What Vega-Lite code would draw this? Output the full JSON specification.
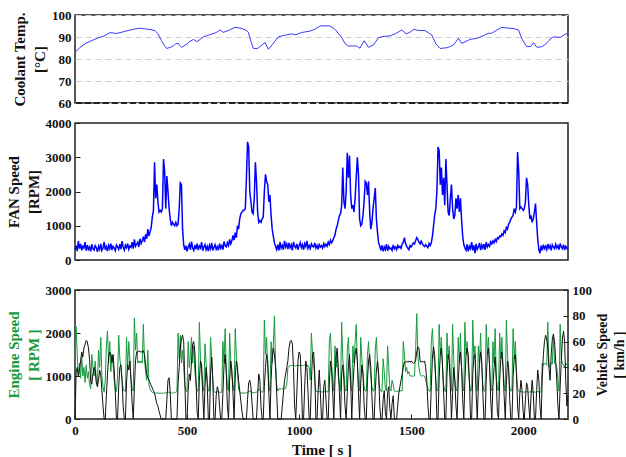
{
"$schema": "https://vega.github.io/schema/vega-lite/v6.json",
"background": "white",
"padding": {"left": 5, "top": 8, "right": 0, "bottom": 0},
"config": {
  "font": "Liberation Serif",
  "view": {"stroke": "#222", "strokeWidth": 1.5},
  "axis": {"labelFont": "Liberation Serif", "labelFontWeight": "bold", "labelFontSize": 13, "labelColor": "#111", "labelOverlap": false, "labelFlush": false, "format": "d", "titleFont": "Liberation Serif", "titleFontWeight": "bold", "titleFontSize": 15, "titleColor": "#111", "titleLineHeight": 20, "domain": false, "tickColor": "#222", "tickSize": -5, "labelPadding": 9, "grid": false, "titlePadding": 4}
},
"datasets": {
"coolant": [
{"t":0,"c":83},{"t":20,"c":85},{"t":45,"c":87},{"t":67,"c":88},{"t":100,"c":89.5},{"t":130,"c":90.5},{"t":156,"c":92},{"t":186,"c":91.6},{"t":220,"c":92.5},{"t":260,"c":93.5},{"t":290,"c":94},{"t":320,"c":93.6},{"t":340,"c":93.3},{"t":357,"c":92.9},{"t":370,"c":91.5},{"t":385,"c":88.5},{"t":400,"c":86},{"t":409,"c":84.8},{"t":425,"c":85.3},{"t":440,"c":86},{"t":450,"c":87},{"t":461,"c":87.1},{"t":470,"c":85.8},{"t":476,"c":85.3},{"t":495,"c":86.5},{"t":510,"c":87.8},{"t":528,"c":88.9},{"t":543,"c":87.9},{"t":560,"c":89},{"t":573,"c":90.1},{"t":600,"c":91},{"t":630,"c":92},{"t":647,"c":93.2},{"t":662,"c":92.1},{"t":690,"c":93.2},{"t":714,"c":94.4},{"t":740,"c":94},{"t":765,"c":93},{"t":774,"c":92.1},{"t":785,"c":88},{"t":796,"c":84.8},{"t":815,"c":84.8},{"t":830,"c":86},{"t":848,"c":87.5},{"t":863,"c":84.4},{"t":880,"c":86.5},{"t":908,"c":90.1},{"t":935,"c":90.8},{"t":967,"c":91.4},{"t":985,"c":91},{"t":1010,"c":92},{"t":1049,"c":92.7},{"t":1070,"c":93.5},{"t":1094,"c":95},{"t":1120,"c":95.1},{"t":1138,"c":95},{"t":1160,"c":93.5},{"t":1190,"c":89.8},{"t":1205,"c":87},{"t":1220,"c":85.9},{"t":1257,"c":85.9},{"t":1272,"c":84.9},{"t":1290,"c":88.3},{"t":1310,"c":85.3},{"t":1332,"c":86.4},{"t":1354,"c":89.7},{"t":1380,"c":90.3},{"t":1406,"c":90.5},{"t":1430,"c":91.5},{"t":1458,"c":93.2},{"t":1478,"c":91.4},{"t":1495,"c":92.2},{"t":1513,"c":93.5},{"t":1530,"c":93},{"t":1562,"c":92.9},{"t":1592,"c":90.9},{"t":1610,"c":87},{"t":1629,"c":84.8},{"t":1659,"c":85.1},{"t":1675,"c":85.7},{"t":1689,"c":86.4},{"t":1711,"c":89.4},{"t":1726,"c":87.1},{"t":1745,"c":88},{"t":1763,"c":88.9},{"t":1793,"c":89.4},{"t":1820,"c":90.5},{"t":1845,"c":91.7},{"t":1860,"c":91.7},{"t":1880,"c":93},{"t":1905,"c":94.4},{"t":1934,"c":94},{"t":1960,"c":93.8},{"t":1979,"c":93.2},{"t":1995,"c":89},{"t":2016,"c":85.6},{"t":2035,"c":85.8},{"t":2046,"c":87.4},{"t":2061,"c":85.3},{"t":2083,"c":85.6},{"t":2100,"c":86.7},{"t":2113,"c":88.3},{"t":2135,"c":90.1},{"t":2165,"c":89.8},{"t":2188,"c":91.4},{"t":2200,"c":91.4}
],
"fan": [
{"t":0,"f":300},{"t":5,"f":420},{"t":10,"f":260},{"t":15,"f":550},{"t":20,"f":330},{"t":25,"f":470},{"t":30,"f":280},{"t":35,"f":400},{"t":40,"f":350},{"t":45,"f":520},
{"t":50,"f":270},{"t":55,"f":430},{"t":60,"f":310},{"t":65,"f":380},{"t":70,"f":250},{"t":75,"f":460},{"t":80,"f":330},{"t":85,"f":290},{"t":90,"f":420},{"t":95,"f":360},
{"t":100,"f":240},{"t":105,"f":400},{"t":110,"f":310},{"t":115,"f":470},{"t":120,"f":280},{"t":125,"f":350},{"t":130,"f":520},{"t":135,"f":300},{"t":140,"f":390},{"t":145,"f":260},
{"t":150,"f":430},{"t":155,"f":330},{"t":160,"f":480},{"t":165,"f":290},{"t":170,"f":400},{"t":175,"f":350},{"t":180,"f":270},{"t":185,"f":440},{"t":190,"f":380},{"t":195,"f":310},
{"t":200,"f":460},{"t":205,"f":320},{"t":210,"f":550},{"t":215,"f":380},{"t":220,"f":290},{"t":225,"f":430},{"t":230,"f":360},{"t":235,"f":480},{"t":240,"f":310},{"t":245,"f":410},
{"t":250,"f":370},{"t":255,"f":520},{"t":260,"f":330},{"t":265,"f":600},{"t":270,"f":400},{"t":275,"f":460},{"t":280,"f":520},{"t":285,"f":380},{"t":290,"f":620},{"t":295,"f":480},
{"t":300,"f":560},{"t":305,"f":680},{"t":310,"f":520},{"t":315,"f":750},{"t":320,"f":620},{"t":325,"f":900},{"t":330,"f":700},{"t":335,"f":820},{"t":340,"f":950},{"t":345,"f":1250},
{"t":350,"f":1450},{"t":355,"f":2850},{"t":360,"f":1800},{"t":365,"f":2200},{"t":370,"f":1700},{"t":375,"f":1400},{"t":380,"f":1450},{"t":385,"f":1400},{"t":390,"f":1500},{"t":395,"f":2950},
{"t":400,"f":2600},{"t":405,"f":1500},{"t":410,"f":2450},{"t":415,"f":2000},{"t":420,"f":1500},{"t":425,"f":1200},{"t":430,"f":1000},{"t":435,"f":1100},{"t":440,"f":1050},{"t":445,"f":1000},
{"t":450,"f":1100},{"t":455,"f":1000},{"t":460,"f":1050},{"t":465,"f":1500},{"t":470,"f":2250},{"t":475,"f":2200},{"t":480,"f":900},{"t":485,"f":450},{"t":490,"f":300},{"t":495,"f":420},
{"t":500,"f":250},{"t":505,"f":380},{"t":510,"f":460},{"t":515,"f":300},{"t":520,"f":540},{"t":525,"f":350},{"t":530,"f":280},{"t":535,"f":430},{"t":540,"f":320},{"t":545,"f":480},
{"t":550,"f":290},{"t":555,"f":410},{"t":560,"f":350},{"t":565,"f":520},{"t":570,"f":270},{"t":575,"f":380},{"t":580,"f":450},{"t":585,"f":300},{"t":590,"f":400},{"t":595,"f":260},
{"t":600,"f":430},{"t":605,"f":330},{"t":610,"f":500},{"t":615,"f":280},{"t":620,"f":370},{"t":625,"f":450},{"t":630,"f":310},{"t":635,"f":390},{"t":640,"f":280},{"t":645,"f":480},
{"t":650,"f":350},{"t":655,"f":420},{"t":660,"f":300},{"t":665,"f":540},{"t":670,"f":410},{"t":675,"f":380},{"t":680,"f":500},{"t":685,"f":420},{"t":690,"f":600},{"t":695,"f":470},
{"t":700,"f":560},{"t":705,"f":720},{"t":710,"f":580},{"t":715,"f":800},{"t":720,"f":650},{"t":725,"f":1000},{"t":730,"f":900},{"t":735,"f":1200},{"t":740,"f":1350},{"t":745,"f":1400},
{"t":750,"f":1450},{"t":755,"f":1450},{"t":760,"f":1500},{"t":765,"f":2400},{"t":770,"f":3450},{"t":775,"f":3300},{"t":780,"f":2000},{"t":785,"f":1700},{"t":790,"f":1400},{"t":795,"f":1350},
{"t":800,"f":1800},{"t":805,"f":2850},{"t":810,"f":2300},{"t":815,"f":1400},{"t":820,"f":1100},{"t":825,"f":1150},{"t":830,"f":1100},{"t":835,"f":1200},{"t":840,"f":1250},{"t":845,"f":2000},
{"t":850,"f":2500},{"t":855,"f":2300},{"t":860,"f":2200},{"t":865,"f":1700},{"t":870,"f":1900},{"t":875,"f":1300},{"t":880,"f":900},{"t":885,"f":700},{"t":890,"f":500},{"t":895,"f":400},
{"t":900,"f":300},{"t":905,"f":450},{"t":910,"f":280},{"t":915,"f":520},{"t":920,"f":350},{"t":925,"f":430},{"t":930,"f":300},{"t":935,"f":560},{"t":940,"f":380},{"t":945,"f":470},
{"t":950,"f":320},{"t":955,"f":500},{"t":960,"f":360},{"t":965,"f":440},{"t":970,"f":280},{"t":975,"f":530},{"t":980,"f":400},{"t":985,"f":350},{"t":990,"f":470},{"t":995,"f":300},
{"t":1000,"f":420},{"t":1005,"f":510},{"t":1010,"f":360},{"t":1015,"f":450},{"t":1020,"f":300},{"t":1025,"f":480},{"t":1030,"f":390},{"t":1035,"f":560},{"t":1040,"f":340},{"t":1045,"f":420},
{"t":1050,"f":330},{"t":1055,"f":470},{"t":1060,"f":400},{"t":1065,"f":380},{"t":1070,"f":500},{"t":1075,"f":350},{"t":1080,"f":430},{"t":1085,"f":310},{"t":1090,"f":450},{"t":1095,"f":380},
{"t":1100,"f":420},{"t":1105,"f":350},{"t":1110,"f":480},{"t":1115,"f":390},{"t":1120,"f":460},{"t":1125,"f":400},{"t":1130,"f":520},{"t":1135,"f":450},{"t":1140,"f":580},{"t":1145,"f":500},
{"t":1150,"f":560},{"t":1155,"f":650},{"t":1160,"f":720},{"t":1165,"f":900},{"t":1170,"f":1000},{"t":1175,"f":1150},{"t":1180,"f":1300},{"t":1185,"f":1350},{"t":1190,"f":1600},{"t":1195,"f":2700},
{"t":1200,"f":1700},{"t":1205,"f":1500},{"t":1210,"f":2000},{"t":1215,"f":3130},{"t":1220,"f":2400},{"t":1225,"f":3050},{"t":1230,"f":1900},{"t":1235,"f":1500},{"t":1240,"f":1600},{"t":1245,"f":1400},
{"t":1250,"f":1800},{"t":1255,"f":2400},{"t":1260,"f":3000},{"t":1265,"f":2500},{"t":1270,"f":1200},{"t":1275,"f":1000},{"t":1280,"f":1050},{"t":1285,"f":1300},{"t":1290,"f":1700},{"t":1295,"f":2300},
{"t":1300,"f":2250},{"t":1305,"f":1900},{"t":1310,"f":2300},{"t":1315,"f":1400},{"t":1320,"f":900},{"t":1325,"f":1100},{"t":1330,"f":1500},{"t":1335,"f":1800},{"t":1340,"f":2100},{"t":1345,"f":1200},
{"t":1350,"f":800},{"t":1355,"f":500},{"t":1360,"f":400},{"t":1365,"f":280},{"t":1370,"f":430},{"t":1375,"f":250},{"t":1380,"f":380},{"t":1385,"f":300},{"t":1390,"f":460},{"t":1395,"f":270},
{"t":1400,"f":400},{"t":1405,"f":320},{"t":1410,"f":350},{"t":1415,"f":280},{"t":1420,"f":440},{"t":1425,"f":330},{"t":1430,"f":380},{"t":1435,"f":300},{"t":1440,"f":420},{"t":1445,"f":360},
{"t":1450,"f":400},{"t":1455,"f":340},{"t":1460,"f":460},{"t":1465,"f":520},{"t":1470,"f":650},{"t":1475,"f":480},{"t":1480,"f":400},{"t":1485,"f":350},{"t":1490,"f":300},{"t":1495,"f":420},
{"t":1500,"f":380},{"t":1505,"f":440},{"t":1510,"f":500},{"t":1515,"f":470},{"t":1520,"f":560},{"t":1525,"f":650},{"t":1530,"f":600},{"t":1535,"f":520},{"t":1540,"f":470},{"t":1545,"f":550},
{"t":1550,"f":480},{"t":1555,"f":420},{"t":1560,"f":390},{"t":1565,"f":450},{"t":1570,"f":400},{"t":1575,"f":360},{"t":1580,"f":480},{"t":1585,"f":420},{"t":1590,"f":500},{"t":1595,"f":700},
{"t":1600,"f":1000},{"t":1605,"f":1300},{"t":1610,"f":1500},{"t":1615,"f":2000},{"t":1620,"f":3300},{"t":1625,"f":3200},{"t":1630,"f":2200},{"t":1635,"f":2700},{"t":1640,"f":1900},{"t":1645,"f":2400},
{"t":1650,"f":1600},{"t":1655,"f":2950},{"t":1660,"f":2200},{"t":1665,"f":1400},{"t":1670,"f":1300},{"t":1675,"f":1800},{"t":1680,"f":2200},{"t":1685,"f":1500},{"t":1690,"f":1200},{"t":1695,"f":1300},
{"t":1700,"f":1800},{"t":1705,"f":1500},{"t":1710,"f":1900},{"t":1715,"f":1400},{"t":1720,"f":1800},{"t":1725,"f":1200},{"t":1730,"f":700},{"t":1735,"f":450},{"t":1740,"f":350},{"t":1745,"f":280},
{"t":1750,"f":460},{"t":1755,"f":250},{"t":1760,"f":400},{"t":1765,"f":330},{"t":1770,"f":520},{"t":1775,"f":280},{"t":1780,"f":430},{"t":1785,"f":200},{"t":1790,"f":470},{"t":1795,"f":310},
{"t":1800,"f":380},{"t":1805,"f":500},{"t":1810,"f":290},{"t":1815,"f":440},{"t":1820,"f":350},{"t":1825,"f":460},{"t":1830,"f":300},{"t":1835,"f":520},{"t":1840,"f":380},{"t":1845,"f":450},
{"t":1850,"f":400},{"t":1855,"f":530},{"t":1860,"f":470},{"t":1865,"f":560},{"t":1870,"f":500},{"t":1875,"f":600},{"t":1880,"f":540},{"t":1885,"f":650},{"t":1890,"f":620},{"t":1895,"f":700},
{"t":1900,"f":680},{"t":1905,"f":760},{"t":1910,"f":720},{"t":1915,"f":850},{"t":1920,"f":800},{"t":1925,"f":950},{"t":1930,"f":900},{"t":1935,"f":1050},{"t":1940,"f":1100},{"t":1945,"f":1200},
{"t":1950,"f":1250},{"t":1955,"f":1300},{"t":1960,"f":1500},{"t":1965,"f":1400},{"t":1970,"f":1550},{"t":1975,"f":3150},{"t":1980,"f":2600},{"t":1985,"f":1500},{"t":1990,"f":1550},{"t":1995,"f":1500},
{"t":2000,"f":1450},{"t":2005,"f":1500},{"t":2010,"f":1700},{"t":2015,"f":2400},{"t":2020,"f":2200},{"t":2025,"f":1600},{"t":2030,"f":1200},{"t":2035,"f":1300},{"t":2040,"f":1100},{"t":2045,"f":1200},
{"t":2050,"f":1400},{"t":2055,"f":1650},{"t":2060,"f":1100},{"t":2065,"f":600},{"t":2070,"f":300},{"t":2075,"f":200},{"t":2080,"f":420},{"t":2085,"f":280},{"t":2090,"f":450},{"t":2095,"f":330},
{"t":2100,"f":400},{"t":2105,"f":300},{"t":2110,"f":470},{"t":2115,"f":350},{"t":2120,"f":420},{"t":2125,"f":280},{"t":2130,"f":440},{"t":2135,"f":380},{"t":2140,"f":330},{"t":2145,"f":460},
{"t":2150,"f":350},{"t":2155,"f":420},{"t":2160,"f":300},{"t":2165,"f":480},{"t":2170,"f":380},{"t":2175,"f":330},{"t":2180,"f":450},{"t":2185,"f":290},{"t":2190,"f":400},{"t":2195,"f":350},
{"t":2200,"f":300}
],
"drive": [
{"t":0,"v":0,"e":1400},{"t":5,"v":36,"e":2150},{"t":10,"v":40,"e":1500},{"t":15,"v":33,"e":1000},{"t":20,"v":38,"e":1300},{"t":25,"v":45,"e":950},{"t":30,"v":52,"e":1450},{"t":35,"v":48,"e":1000},{"t":40,"v":55,"e":1200},{"t":45,"v":58,"e":850},
{"t":50,"v":61,"e":1250},{"t":55,"v":60,"e":950},{"t":60,"v":55,"e":1100},{"t":65,"v":46,"e":800},{"t":70,"v":30,"e":700},{"t":75,"v":27,"e":1500},{"t":80,"v":35,"e":1200},{"t":85,"v":40,"e":1000},{"t":90,"v":38,"e":1350},{"t":95,"v":28,"e":900},
{"t":100,"v":25,"e":800},{"t":105,"v":30,"e":1600},{"t":110,"v":38,"e":1200},{"t":115,"v":34,"e":1900},{"t":120,"v":22,"e":1000},{"t":125,"v":10,"e":750},{"t":130,"v":0,"e":620},{"t":135,"v":0,"e":900},{"t":140,"v":18,"e":1700},{"t":145,"v":35,"e":2050},
{"t":150,"v":48,"e":1300},{"t":155,"v":52,"e":1800},{"t":160,"v":50,"e":1100},{"t":165,"v":44,"e":1500},{"t":170,"v":50,"e":1250},{"t":175,"v":38,"e":900},{"t":180,"v":20,"e":700},{"t":185,"v":0,"e":640},{"t":190,"v":0,"e":1000},{"t":195,"v":25,"e":1950},
{"t":200,"v":40,"e":1400},{"t":205,"v":42,"e":1200},{"t":210,"v":30,"e":900},{"t":215,"v":10,"e":700},{"t":220,"v":0,"e":650},{"t":225,"v":0,"e":640},{"t":230,"v":28,"e":1900},{"t":235,"v":42,"e":1200},{"t":240,"v":38,"e":1800},{"t":245,"v":45,"e":1350},
{"t":250,"v":30,"e":900},{"t":255,"v":12,"e":700},{"t":260,"v":0,"e":650},{"t":265,"v":25,"e":2350},{"t":270,"v":45,"e":1600},{"t":275,"v":52,"e":2000},{"t":280,"v":52,"e":1300},{"t":285,"v":53,"e":1350},{"t":290,"v":52,"e":1300},{"t":295,"v":52,"e":1350},
{"t":300,"v":52,"e":1300},{"t":305,"v":53,"e":2200},{"t":310,"v":50,"e":1400},{"t":315,"v":42,"e":1100},{"t":320,"v":35,"e":900},{"t":325,"v":32,"e":1600},{"t":330,"v":30,"e":800},{"t":335,"v":28,"e":700},{"t":340,"v":26,"e":650},{"t":345,"v":24,"e":620},
{"t":350,"v":22,"e":610},{"t":355,"v":20,"e":600},{"t":360,"v":16,"e":600},{"t":365,"v":12,"e":610},{"t":370,"v":10,"e":600},{"t":375,"v":6,"e":600},{"t":380,"v":3,"e":600},{"t":385,"v":0,"e":600},{"t":390,"v":0,"e":600},{"t":395,"v":0,"e":600},
{"t":400,"v":0,"e":600},{"t":405,"v":0,"e":610},{"t":410,"v":15,"e":620},{"t":415,"v":30,"e":630},{"t":420,"v":32,"e":620},{"t":425,"v":20,"e":610},{"t":430,"v":0,"e":600},{"t":435,"v":0,"e":610},{"t":440,"v":0,"e":600},{"t":445,"v":0,"e":620},
{"t":450,"v":0,"e":620},{"t":455,"v":0,"e":640},{"t":460,"v":28,"e":2000},{"t":465,"v":40,"e":1400},{"t":470,"v":55,"e":1950},{"t":475,"v":62,"e":1300},{"t":480,"v":65,"e":1600},{"t":485,"v":60,"e":1200},{"t":490,"v":30,"e":800},{"t":495,"v":0,"e":650},
{"t":500,"v":0,"e":640},{"t":505,"v":22,"e":1800},{"t":510,"v":35,"e":1200},{"t":515,"v":30,"e":1500},{"t":520,"v":45,"e":1900},{"t":525,"v":58,"e":1300},{"t":530,"v":60,"e":1700},{"t":535,"v":52,"e":1100},{"t":540,"v":30,"e":800},{"t":545,"v":5,"e":650},
{"t":550,"v":0,"e":660},{"t":555,"v":30,"e":2250},{"t":560,"v":45,"e":1400},{"t":565,"v":42,"e":1100},{"t":570,"v":20,"e":800},{"t":575,"v":0,"e":650},{"t":580,"v":25,"e":1750},{"t":585,"v":40,"e":1300},{"t":590,"v":28,"e":900},{"t":595,"v":0,"e":650},
{"t":600,"v":0,"e":650},{"t":605,"v":35,"e":1900},{"t":610,"v":48,"e":1400},{"t":615,"v":30,"e":900},{"t":620,"v":0,"e":640},{"t":625,"v":0,"e":620},{"t":630,"v":18,"e":620},{"t":635,"v":25,"e":640},{"t":640,"v":22,"e":630},{"t":645,"v":10,"e":620},
{"t":650,"v":0,"e":620},{"t":655,"v":0,"e":620},{"t":660,"v":20,"e":1800},{"t":665,"v":42,"e":1300},{"t":670,"v":50,"e":2100},{"t":675,"v":35,"e":1200},{"t":680,"v":10,"e":750},{"t":685,"v":0,"e":650},{"t":690,"v":30,"e":2000},{"t":695,"v":45,"e":1350},
{"t":700,"v":38,"e":1000},{"t":705,"v":20,"e":800},{"t":710,"v":0,"e":650},{"t":715,"v":32,"e":2100},{"t":720,"v":45,"e":1500},{"t":725,"v":40,"e":1100},{"t":730,"v":30,"e":700},{"t":735,"v":22,"e":620},{"t":740,"v":14,"e":610},{"t":745,"v":6,"e":600},
{"t":750,"v":0,"e":600},{"t":755,"v":0,"e":610},{"t":760,"v":0,"e":600},{"t":765,"v":0,"e":610},{"t":770,"v":15,"e":620},{"t":775,"v":28,"e":640},{"t":780,"v":30,"e":650},{"t":785,"v":25,"e":640},{"t":790,"v":12,"e":620},{"t":795,"v":0,"e":610},
{"t":800,"v":0,"e":610},{"t":805,"v":0,"e":620},{"t":810,"v":0,"e":620},{"t":815,"v":18,"e":650},{"t":820,"v":35,"e":700},{"t":825,"v":30,"e":680},{"t":830,"v":10,"e":640},{"t":835,"v":0,"e":620},{"t":840,"v":0,"e":640},{"t":845,"v":25,"e":2300},
{"t":850,"v":40,"e":1500},{"t":855,"v":50,"e":1900},{"t":860,"v":45,"e":1200},{"t":865,"v":20,"e":800},{"t":870,"v":0,"e":650},{"t":875,"v":30,"e":1800},{"t":880,"v":48,"e":1300},{"t":885,"v":55,"e":1700},{"t":890,"v":50,"e":2400},{"t":895,"v":40,"e":1300},
{"t":900,"v":20,"e":800},{"t":905,"v":0,"e":650},{"t":910,"v":0,"e":700},{"t":915,"v":0,"e":700},{"t":920,"v":0,"e":700},{"t":925,"v":10,"e":700},{"t":930,"v":20,"e":720},{"t":935,"v":30,"e":700},{"t":940,"v":35,"e":720},{"t":945,"v":40,"e":800},
{"t":950,"v":45,"e":1200},{"t":955,"v":55,"e":1220},{"t":960,"v":60,"e":1240},{"t":965,"v":61,"e":1250},{"t":970,"v":58,"e":1240},{"t":975,"v":40,"e":1250},{"t":980,"v":10,"e":1240},{"t":985,"v":0,"e":1230},{"t":990,"v":20,"e":1250},{"t":995,"v":45,"e":1240},
{"t":1000,"v":52,"e":1250},{"t":1005,"v":50,"e":1240},{"t":1010,"v":30,"e":1250},{"t":1015,"v":0,"e":1240},{"t":1020,"v":0,"e":1250},{"t":1025,"v":25,"e":1260},{"t":1030,"v":45,"e":1250},{"t":1035,"v":40,"e":1240},{"t":1040,"v":20,"e":1250},{"t":1045,"v":0,"e":1200},
{"t":1050,"v":0,"e":900},{"t":1055,"v":30,"e":2000},{"t":1060,"v":50,"e":1500},{"t":1065,"v":52,"e":1300},{"t":1070,"v":35,"e":900},{"t":1075,"v":0,"e":650},{"t":1080,"v":0,"e":640},{"t":1085,"v":22,"e":630},{"t":1090,"v":38,"e":640},{"t":1095,"v":20,"e":630},
{"t":1100,"v":0,"e":630},{"t":1105,"v":0,"e":630},{"t":1110,"v":25,"e":640},{"t":1115,"v":30,"e":650},{"t":1120,"v":15,"e":640},{"t":1125,"v":0,"e":630},{"t":1130,"v":0,"e":630},{"t":1135,"v":28,"e":1800},{"t":1140,"v":45,"e":2000},{"t":1145,"v":38,"e":1300},
{"t":1150,"v":20,"e":900},{"t":1155,"v":0,"e":650},{"t":1160,"v":30,"e":1700},{"t":1165,"v":48,"e":1200},{"t":1170,"v":55,"e":1500},{"t":1175,"v":40,"e":1000},{"t":1180,"v":20,"e":800},{"t":1185,"v":0,"e":650},{"t":1190,"v":35,"e":2250},{"t":1195,"v":42,"e":1400},
{"t":1200,"v":30,"e":1100},{"t":1205,"v":10,"e":700},{"t":1210,"v":0,"e":650},{"t":1215,"v":20,"e":1600},{"t":1220,"v":42,"e":1900},{"t":1225,"v":50,"e":1200},{"t":1230,"v":30,"e":800},{"t":1235,"v":0,"e":650},{"t":1240,"v":25,"e":1700},{"t":1245,"v":40,"e":1300},
{"t":1250,"v":50,"e":1800},{"t":1255,"v":55,"e":2200},{"t":1260,"v":45,"e":1300},{"t":1265,"v":20,"e":800},{"t":1270,"v":0,"e":650},{"t":1275,"v":28,"e":1900},{"t":1280,"v":42,"e":1400},{"t":1285,"v":35,"e":1100},{"t":1290,"v":12,"e":750},{"t":1295,"v":0,"e":650},
{"t":1300,"v":0,"e":650},{"t":1305,"v":30,"e":1500},{"t":1310,"v":45,"e":1800},{"t":1315,"v":50,"e":1300},{"t":1320,"v":40,"e":1000},{"t":1325,"v":18,"e":750},{"t":1330,"v":0,"e":650},{"t":1335,"v":0,"e":660},{"t":1340,"v":22,"e":1600},{"t":1345,"v":38,"e":1900},
{"t":1350,"v":45,"e":1300},{"t":1355,"v":35,"e":1000},{"t":1360,"v":10,"e":700},{"t":1365,"v":0,"e":650},{"t":1370,"v":0,"e":640},{"t":1375,"v":15,"e":1400},{"t":1380,"v":22,"e":1100},{"t":1385,"v":5,"e":700},{"t":1390,"v":0,"e":650},{"t":1395,"v":20,"e":1700},
{"t":1400,"v":25,"e":1200},{"t":1405,"v":8,"e":700},{"t":1410,"v":0,"e":650},{"t":1415,"v":12,"e":900},{"t":1420,"v":18,"e":800},{"t":1425,"v":0,"e":650},{"t":1430,"v":0,"e":640},{"t":1435,"v":0,"e":650},{"t":1440,"v":10,"e":640},{"t":1445,"v":20,"e":650},
{"t":1450,"v":25,"e":650},{"t":1455,"v":30,"e":660},{"t":1460,"v":35,"e":650},{"t":1465,"v":40,"e":1800},{"t":1470,"v":44,"e":1500},{"t":1475,"v":44,"e":1100},{"t":1480,"v":45,"e":1200},{"t":1485,"v":44,"e":1050},{"t":1490,"v":45,"e":1100},{"t":1495,"v":44,"e":1000},
{"t":1500,"v":45,"e":1000},{"t":1505,"v":44,"e":1000},{"t":1510,"v":43,"e":990},{"t":1515,"v":44,"e":1000},{"t":1520,"v":45,"e":1600},{"t":1525,"v":52,"e":2450},{"t":1530,"v":56,"e":1500},{"t":1535,"v":55,"e":1200},{"t":1540,"v":45,"e":1050},{"t":1545,"v":44,"e":1000},
{"t":1550,"v":45,"e":1000},{"t":1555,"v":44,"e":1010},{"t":1560,"v":45,"e":1000},{"t":1565,"v":40,"e":900},{"t":1570,"v":30,"e":800},{"t":1575,"v":10,"e":700},{"t":1580,"v":0,"e":650},{"t":1585,"v":0,"e":650},{"t":1590,"v":25,"e":1800},{"t":1595,"v":48,"e":2100},
{"t":1600,"v":56,"e":1500},{"t":1605,"v":50,"e":1300},{"t":1610,"v":30,"e":900},{"t":1615,"v":0,"e":650},{"t":1620,"v":0,"e":700},{"t":1625,"v":32,"e":2200},{"t":1630,"v":50,"e":1500},{"t":1635,"v":55,"e":1900},{"t":1640,"v":42,"e":1200},{"t":1645,"v":20,"e":800},
{"t":1650,"v":0,"e":650},{"t":1655,"v":0,"e":640},{"t":1660,"v":35,"e":2000},{"t":1665,"v":50,"e":1400},{"t":1670,"v":45,"e":1700},{"t":1675,"v":25,"e":1000},{"t":1680,"v":0,"e":650},{"t":1685,"v":20,"e":2200},{"t":1690,"v":40,"e":1400},{"t":1695,"v":30,"e":900},
{"t":1700,"v":10,"e":700},{"t":1705,"v":0,"e":650},{"t":1710,"v":28,"e":1900},{"t":1715,"v":45,"e":1300},{"t":1720,"v":52,"e":2000},{"t":1725,"v":40,"e":1200},{"t":1730,"v":15,"e":750},{"t":1735,"v":0,"e":650},{"t":1740,"v":30,"e":2250},{"t":1745,"v":50,"e":1500},
{"t":1750,"v":55,"e":1800},{"t":1755,"v":50,"e":1200},{"t":1760,"v":30,"e":850},{"t":1765,"v":0,"e":650},{"t":1770,"v":0,"e":660},{"t":1775,"v":35,"e":2300},{"t":1780,"v":48,"e":1400},{"t":1785,"v":50,"e":1700},{"t":1790,"v":20,"e":800},{"t":1795,"v":0,"e":650},
{"t":1800,"v":25,"e":1700},{"t":1805,"v":42,"e":1300},{"t":1810,"v":52,"e":2000},{"t":1815,"v":45,"e":1200},{"t":1820,"v":20,"e":800},{"t":1825,"v":0,"e":650},{"t":1830,"v":0,"e":650},{"t":1835,"v":30,"e":2200},{"t":1840,"v":50,"e":1500},{"t":1845,"v":55,"e":1900},
{"t":1850,"v":42,"e":1200},{"t":1855,"v":15,"e":750},{"t":1860,"v":0,"e":650},{"t":1865,"v":25,"e":1800},{"t":1870,"v":40,"e":1300},{"t":1875,"v":48,"e":2100},{"t":1880,"v":30,"e":1000},{"t":1885,"v":5,"e":700},{"t":1890,"v":0,"e":650},{"t":1895,"v":30,"e":2000},
{"t":1900,"v":46,"e":1400},{"t":1905,"v":52,"e":1900},{"t":1910,"v":40,"e":1200},{"t":1915,"v":18,"e":800},{"t":1920,"v":0,"e":650},{"t":1925,"v":28,"e":2300},{"t":1930,"v":45,"e":1500},{"t":1935,"v":40,"e":1100},{"t":1940,"v":15,"e":750},{"t":1945,"v":0,"e":650},
{"t":1950,"v":0,"e":660},{"t":1955,"v":32,"e":2100},{"t":1960,"v":48,"e":1400},{"t":1965,"v":50,"e":1800},{"t":1970,"v":35,"e":1100},{"t":1975,"v":10,"e":700},{"t":1980,"v":0,"e":650},{"t":1985,"v":20,"e":630},{"t":1990,"v":30,"e":640},{"t":1995,"v":22,"e":630},
{"t":2000,"v":5,"e":630},{"t":2005,"v":0,"e":620},{"t":2010,"v":15,"e":630},{"t":2015,"v":28,"e":640},{"t":2020,"v":25,"e":630},{"t":2025,"v":10,"e":620},{"t":2030,"v":0,"e":630},{"t":2035,"v":18,"e":640},{"t":2040,"v":30,"e":630},{"t":2045,"v":20,"e":620},
{"t":2050,"v":0,"e":630},{"t":2055,"v":0,"e":620},{"t":2060,"v":22,"e":630},{"t":2065,"v":38,"e":640},{"t":2070,"v":30,"e":630},{"t":2075,"v":10,"e":620},{"t":2080,"v":0,"e":630},{"t":2085,"v":30,"e":1300},{"t":2090,"v":50,"e":1250},{"t":2095,"v":60,"e":1300},
{"t":2100,"v":65,"e":1280},{"t":2105,"v":62,"e":1250},{"t":2110,"v":55,"e":2250},{"t":2115,"v":40,"e":1200},{"t":2120,"v":30,"e":1250},{"t":2125,"v":50,"e":1300},{"t":2130,"v":62,"e":1280},{"t":2135,"v":66,"e":1900},{"t":2140,"v":60,"e":1300},{"t":2145,"v":45,"e":1270},
{"t":2150,"v":30,"e":1200},{"t":2155,"v":10,"e":900},{"t":2160,"v":0,"e":650},{"t":2165,"v":25,"e":2200},{"t":2170,"v":45,"e":1400},{"t":2175,"v":62,"e":1300},{"t":2180,"v":68,"e":1250},{"t":2185,"v":60,"e":1200},{"t":2190,"v":30,"e":1300},{"t":2195,"v":10,"e":1250},
{"t":2200,"v":18,"e":1250}
]
},
"vconcat": [
  {
    "width": 493, "height": 88,
    "data": {"name": "coolant"},
    "layer": [
      {"mark": {"type": "line", "color": "#3a3aff", "strokeWidth": 1},
       "encoding": {
         "x": {"field": "t", "type": "quantitative", "scale": {"domain": [0, 2200], "nice": false}, "axis": null},
         "y": {"field": "c", "type": "quantitative", "scale": {"domain": [60, 100]}, "title": ["Coolant Temp.", "[°C]"], "axis": {"values": [60, 70, 80, 90, 100], "grid": true, "gridDash": [6, 4], "gridColor": "#cfcfcf", "tickSize": 0, "labelPadding": 4}}
       }},
      {"mark": {"type": "rule", "color": "#222", "strokeWidth": 2, "strokeDash": [6, 3]},
       "encoding": {"y": {"datum": 60, "type": "quantitative", "title": ["Coolant Temp.", "[°C]"], "axis": {"values": [60, 70, 80, 90, 100], "grid": true, "gridDash": [6, 4], "gridColor": "#cfcfcf", "tickSize": 0, "labelPadding": 4}}}}
    ]
  },
  {
    "width": 493, "height": 137,
    "data": {"name": "fan"},
    "mark": {"type": "line", "color": "#0000ff", "strokeWidth": 1.5},
    "encoding": {
      "x": {"field": "t", "type": "quantitative", "scale": {"domain": [0, 2200], "nice": false}, "title": " ", "axis": {"labels": false, "ticks": false, "grid": false, "titleFontSize": 12, "titlePadding": 6, "titleColor": "#ffffff"}},
      "y": {"field": "f", "type": "quantitative", "scale": {"domain": [0, 4000]}, "title": ["FAN Speed", "[RPM]"], "axis": {"values": [0, 1000, 2000, 3000, 4000]}}
    }
  },
  {
    "width": 493, "height": 129,
    "data": {"name": "drive"},
    "encoding": {
      "x": {"field": "t", "type": "quantitative", "scale": {"domain": [0, 2200], "nice": false}, "title": "Time [ s ]", "axis": {"values": [0, 500, 1000, 1500, 2000], "labelPadding": 10, "titlePadding": 5}}
    },
    "layer": [
      {"mark": {"type": "line", "color": "#159a3c", "strokeWidth": 1},
       "encoding": {"y": {"field": "e", "type": "quantitative", "scale": {"domain": [0, 3000]}, "title": ["Engine Speed", "[ RPM ]"], "axis": {"values": [0, 1000, 2000, 3000], "titleColor": "#159a3c"}}}},
      {"mark": {"type": "line", "color": "#111", "strokeWidth": 1},
       "encoding": {"y": {"field": "v", "type": "quantitative", "scale": {"domain": [0, 100]}, "title": ["Vehicle Speed", "[ km/h ]"], "axis": {"orient": "right", "values": [0, 20, 40, 60, 80, 100], "titleAngle": 270, "titleFontSize": 14, "titleLineHeight": 17, "titlePadding": 1}}}}
    ],
    "resolve": {"scale": {"y": "independent"}}
  }
],
"spacing": 5
}
